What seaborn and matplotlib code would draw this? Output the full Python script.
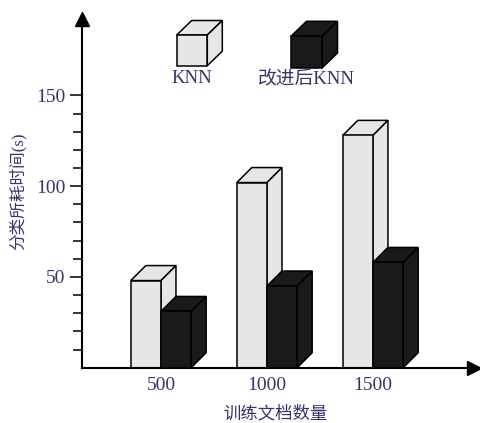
import numpy as np
import pandas as pd
import matplotlib
matplotlib.use('Agg')
import matplotlib.pyplot as plt
from matplotlib.patches import Polygon
import seaborn as sns

# data
groups = ['500', '1000', '1500']
methods = ['KNN', '改进后KNN']
knn_time = [48, 102, 128]
improved_time = [31, 45, 58]

df = pd.DataFrame({
    'group': groups * 2,
    'method': [methods[0]] * 3 + [methods[1]] * 3,
    'time': knn_time + improved_time,
})

sns.set_style('white')
plt.rcParams['font.family'] = ['Liberation Serif', 'Noto Sans CJK SC']
plt.rcParams['axes.unicode_minus'] = False

txt = '#35356a'
light = '#e6e6e6'
dark = '#1a1a1a'
W, H = 480, 423

fig = plt.figure(figsize=(4.8, 4.23), dpi=100)
ax = fig.add_axes([82 / W, (H - 367.7) / H, (473.5 - 82) / W, (367.7 - 19) / H])

sns.barplot(data=df, x='group', y='time', hue='method', hue_order=methods,
            palette=[light, dark], width=0.57, edgecolor='black', linewidth=1.1,
            legend=False, ax=ax)

ax.set_xlim(-0.745, -0.745 + (473.5 - 82) / 106)
ax.set_ylim(0, (367.7 - 19) / 1.815)

fig.canvas.draw()
p0 = ax.transData.transform((0, 0))
p1 = ax.transData.transform((1, 1))
dx = 15 / (p1[0] - p0[0])
dy = 15 / (p1[1] - p0[1])


def cube(x0, y0, w, h, ddx, ddy, color, z, transform):
    front = [(x0, y0), (x0 + w, y0), (x0 + w, y0 + h), (x0, y0 + h)]
    top = [(x0, y0 + h), (x0 + w, y0 + h), (x0 + w + ddx, y0 + h + ddy), (x0 + ddx, y0 + h + ddy)]
    side = [(x0 + w, y0), (x0 + w + ddx, y0 + ddy), (x0 + w + ddx, y0 + h + ddy), (x0 + w, y0 + h)]
    for pts in (top, side, front):
        ax.add_patch(Polygon(pts, closed=True, facecolor=color, edgecolor='black',
                             linewidth=1.1, joinstyle='miter', zorder=z,
                             transform=transform, clip_on=False))


bars = list(ax.patches)
for i, p in enumerate(bars):
    col = light if i < 3 else dark
    z = 2 if i < 3 else 3
    p.set_visible(False)
    cube(p.get_x(), 0, p.get_width(), p.get_height(), dx, dy, col, z, ax.transData)

# legend cubes
cube(176.7 / W, 1 - 65.7 / H, 30.6 / W, 30.7 / H, 15 / W, 14.5 / H, light, 5, fig.transFigure)
cube(291 / W, 1 - 68 / H, 31 / W, 31.7 / H, 15.5 / W, 15 / H, dark, 5, fig.transFigure)
fig.text(191.5 / W, 1 - 78 / H, methods[0], color=txt, fontsize=13.5, ha='center', va='center')
fig.text(306.5 / W, 1 - 80 / H, methods[1], color=txt, fontsize=13.5, ha='center', va='center')

# axes styling
for s in ['top', 'right']:
    ax.spines[s].set_visible(False)
for s in ['left', 'bottom']:
    ax.spines[s].set_linewidth(1.5)
    ax.spines[s].set_color('black')
ax.plot(0, 1, marker='^', color='black', markersize=9.5, transform=ax.transAxes, clip_on=False)
ax.plot(1, 0, marker='>', color='black', markersize=9.5, transform=ax.transAxes, clip_on=False)

ax.set_yticks([50, 100, 150])
ax.set_yticks([v for v in range(10, 150, 10) if v % 50], minor=True)
ax.tick_params(axis='y', which='major', length=9, width=1.1, pad=3, labelsize=14,
               labelcolor=txt, left=True, color='black')
ax.tick_params(axis='y', which='minor', length=6.5, width=1.1, left=True, color='black')
ax.tick_params(axis='x', length=0, pad=6.5, labelsize=14, labelcolor=txt)

ax.set_xlabel('训练文档数量', fontsize=12.5, color=txt, va='center', ha='center')
ax.xaxis.set_label_coords((275 - 82) / 391.5, (367.7 - 414) / 348.7)
ax.set_ylabel('分类所耗时间(s)', fontsize=12, color=txt, va='center', ha='center')
ax.yaxis.set_label_coords((17.5 - 82) / 391.5, (367.7 - 191.5) / 348.7)
ax.grid(False)

fig.savefig('out.png', dpi=100)
